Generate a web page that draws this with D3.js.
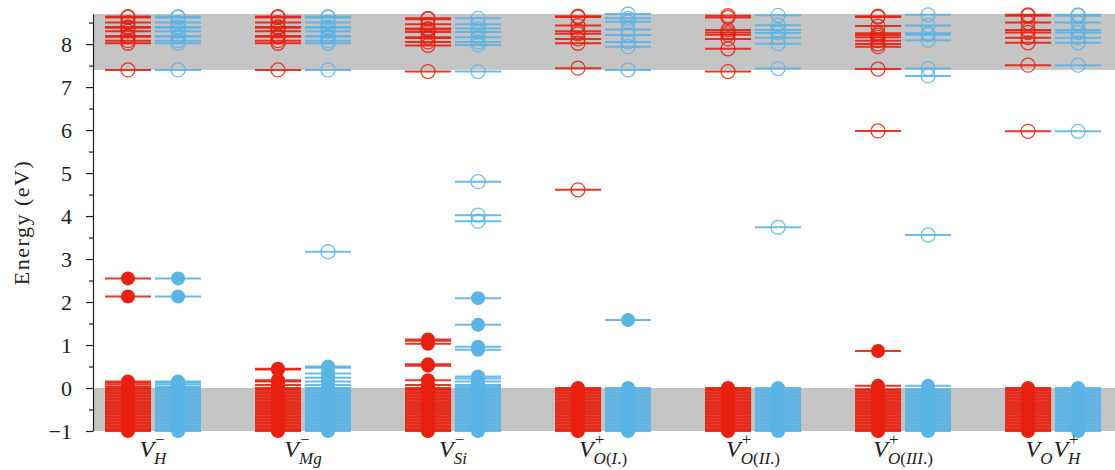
<!DOCTYPE html>
<html>
<head>
<meta charset="utf-8">
<script src="https://cdn.jsdelivr.net/npm/d3@7"></script>
<style>
  body { margin: 0; background: #fff; }
  text { font-family: "Liberation Serif", "Times New Roman", serif; fill: #222; }
</style>
</head>
<body>
<svg id="chart" width="1115" height="470"></svg>
<script>
      // defect labels : base letter, subscript, superscript
      var labels = [
        [{base: "V", sub: "H",        sup: "\u2212"}],
        [{base: "V", sub: "Mg",       sup: "\u2212"}],
        [{base: "V", sub: "Si",       sup: "\u2212"}],
        [{base: "V", sub: "O(I.)",    sup: "+"}],
        [{base: "V", sub: "O(II.)",   sup: "+"}],
        [{base: "V", sub: "O(III.)",  sup: "+"}],
        [{base: "V", sub: "O"}, {base: "V", sub: "H", sup: "+"}]
      ];

      // valence band levels (shared by all defects)
      var vbLevels = [-1.00,-0.97,-0.94,-0.90,-0.87,-0.83,-0.80,-0.76,-0.73,-0.69,-0.66,-0.62,-0.59,-0.55,
                      -0.52,-0.48,-0.45,-0.41,-0.38,-0.34,-0.31,-0.27,-0.24,-0.20,-0.17,-0.13,-0.10,-0.06,-0.03];

      // spin up, occupied
      var upOcc = [
        [0.00, 0.03, 0.08, 0.12, 0.15, 2.13, 2.55],
        [0.00, 0.07, 0.15, 0.18, 0.43, 0.45],
        [0.00, 0.07, 0.18, 0.52, 0.55, 1.03, 1.10, 1.13],
        [0.00],
        [0.00],
        [0.05, 0.86],
        [0.00]
      ];
      // spin up, empty
      var upEmpty = [
        [7.40, 8.02, 8.08, 8.17, 8.19, 8.30, 8.38, 8.40, 8.50, 8.62, 8.64],
        [7.40, 8.02, 8.08, 8.17, 8.19, 8.30, 8.38, 8.40, 8.50, 8.62, 8.64],
        [7.36, 7.97, 8.05, 8.14, 8.16, 8.28, 8.34, 8.36, 8.46, 8.58, 8.60],
        [4.61, 7.44, 8.02, 8.12, 8.24, 8.30, 8.43, 8.63, 8.65],
        [7.36, 7.89, 8.12, 8.22, 8.27, 8.33, 8.62, 8.66],
        [5.98, 7.42, 7.94, 8.00, 8.08, 8.16, 8.21, 8.25, 8.42, 8.63, 8.65],
        [5.97, 7.51, 8.03, 8.15, 8.27, 8.33, 8.50, 8.66, 8.68]
      ];
      // spin down, occupied
      var downOcc = [
        [0.00, 0.03, 0.08, 0.12, 0.15, 2.13, 2.55],
        [0.00, 0.07, 0.15, 0.24, 0.34, 0.47, 0.50],
        [0.00, 0.04, 0.07, 0.15, 0.22, 0.27, 0.89, 0.96, 1.47, 2.09],
        [0.00, 1.58],
        [0.00],
        [0.05],
        [0.00]
      ];
      // spin down, empty
      var downEmpty = [
        [7.40, 8.02, 8.08, 8.17, 8.19, 8.30, 8.38, 8.40, 8.50, 8.62, 8.64],
        [3.17, 7.40, 8.02, 8.08, 8.17, 8.19, 8.30, 8.38, 8.40, 8.50, 8.62, 8.64],
        [3.88, 4.02, 4.80, 7.36, 7.98, 8.05, 8.16, 8.28, 8.36, 8.46, 8.60],
        [7.40, 7.94, 8.05, 8.21, 8.34, 8.52, 8.60, 8.70],
        [3.74, 7.43, 8.01, 8.15, 8.26, 8.33, 8.44, 8.67],
        [3.56, 7.26, 7.43, 8.09, 8.22, 8.25, 8.43, 8.68],
        [5.97, 7.51, 8.03, 8.15, 8.27, 8.33, 8.50, 8.66, 8.68]
      ];

      // band edges
      var vbTop = 0.0, cbBottom = 7.40, yMin = -1, yMax = 8.70;
      var yTicks = [-1, 0, 1, 2, 3, 4, 5, 6, 7, 8];
      var yMinor = [-0.5, 0.5, 1.5, 2.5, 3.5, 4.5, 5.5, 6.5, 7.5, 8.5];

      var red  = "#e8200f";
      var blue = "#5ab4e6";

      var svg = d3.select("#chart");
      var margin = {top: 14, bottom: 39, left: 93, right: 0};
      var svgWidth = 1115, svgHeight = 470;

      var xScale = d3.scaleLinear().domain([-0.4, 6.413]).range([margin.left, svgWidth - margin.right]);
      var yScale = d3.scaleLinear().domain([yMin, yMax]).range([svgHeight - margin.bottom, margin.top]);

      // gray bands
      svg.append("rect").attr("x", margin.left).attr("width", svgWidth - margin.left - margin.right)
         .attr("y", yScale(vbTop)).attr("height", yScale(yMin) - yScale(vbTop))
         .style("fill", "#c4c4c4");
      svg.append("rect").attr("x", margin.left).attr("width", svgWidth - margin.left - margin.right)
         .attr("y", yScale(yMax)).attr("height", yScale(cbBottom) - yScale(yMax))
         .style("fill", "#c4c4c4");

      // levels
      var spins = [
        {occ: upOcc,   empty: upEmpty,   color: red,  x1: -0.320, x2: -0.013, xc: -0.167},
        {occ: downOcc, empty: downEmpty, color: blue, x1:  0.013, x2:  0.320, xc:  0.167}
      ];
      var levels = svg.append("g");
      spins.forEach(function(s) {
        for (var c = 0; c < labels.length; c++) {
          var filled = vbLevels.concat(s.occ[c]);
          var all = filled.concat(s.empty[c]);
          all.forEach(function(e) {
            levels.append("line")
               .attr("x1", xScale(c + s.x1)).attr("x2", xScale(c + s.x2))
               .attr("y1", yScale(e)).attr("y2", yScale(e))
               .style("stroke", s.color).style("stroke-width", 2).style("stroke-opacity", 0.9);
          });
          filled.forEach(function(e) {
            levels.append("circle").attr("cx", xScale(c + s.xc)).attr("cy", yScale(e)).attr("r", 7)
               .style("fill", s.color);
          });
          s.empty[c].forEach(function(e) {
            levels.append("circle").attr("cx", xScale(c + s.xc)).attr("cy", yScale(e)).attr("r", 7)
               .style("fill", "none").style("stroke", s.color).style("stroke-width", 1.3)
               .style("stroke-opacity", 0.85);
          });
        }
      });

      // y axis
      var yAxis = svg.append("g").attr("transform", "translate(" + margin.left + ",0)")
         .call(d3.axisLeft(yScale).tickValues(yTicks).tickFormat(d3.format("d"))
                 .tickSize(7).tickPadding(14).tickSizeOuter(0));
      yAxis.selectAll("text").style("font-size", "22px").style("font-family", "Liberation Serif").style("fill", "#222");
      yAxis.selectAll("line, path").style("stroke", "#222").style("stroke-width", 1.2);
      svg.append("g").attr("transform", "translate(" + margin.left + ",0)")
         .call(d3.axisLeft(yScale).tickValues(yMinor).tickFormat("").tickSize(4).tickSizeOuter(0))
         .call(function(g) { g.select(".domain").remove(); })
         .selectAll("line").style("stroke", "#222").style("stroke-width", 1.2);

      svg.append("text")
         .attr("transform", "translate(29," + ((yScale(yMin) + yScale(yMax)) / 2) + ") rotate(-90)")
         .style("text-anchor", "middle").style("font-size", "22px").style("letter-spacing", "1.5px")
         .text("Energy (eV)");

      // width of a script string, measured then removed
      function measure(str, size) {
        var t = svg.append("text").style("font-size", size + "px").style("font-style", "italic").text(str);
        var w = t.node().getComputedTextLength();
        t.remove();
        return w;
      }
      function addChars(t, str, size, dx, dy) {
        str.split("").forEach(function(ch, k) {
          t.append("tspan").text(ch)
           .attr("dx", k == 0 ? dx : null).attr("dy", k == 0 ? dy : null)
           .style("font-size", size + "px")
           .style("font-style", "().\u2212+".indexOf(ch) >= 0 ? "normal" : "italic");
        });
      }

      // category labels, one text element each
      var labelY = 457, subY = 7, supY = -12;
      labels.forEach(function(parts, i) {
        var t = svg.append("text").attr("y", labelY);
        var total = 0, yOff = 0;
        parts.forEach(function(p, k) {
          var wBase = measure(p.base, 24);
          var wSub  = p.sub ? measure(p.sub, 17) : 0;
          var wSup  = p.sup ? measure(p.sup, 17) : 0;
          t.append("tspan").text(p.base).attr("dy", -yOff).attr("dx", k == 0 ? null : 1)
           .style("font-size", "24px").style("font-style", "italic");
          yOff = 0;
          var pen = 0;                       // relative to end of base letter
          if (p.sub) { addChars(t, p.sub, 17, 0, subY); pen = wSub; yOff = subY; }
          if (p.sup) { addChars(t, p.sup, 17, 1 - pen, supY - yOff); pen = 1 + wSup; yOff = supY; }
          var adv = Math.max(wSub, p.sup ? wSup + 1 : 0);
          if (pen < adv) t.append("tspan").text("").attr("dx", adv - pen);
          total += wBase + adv + (k == 0 ? 0 : 1);
        });
        t.attr("x", xScale(i) - total / 2);
      });
</script>
</body>
</html>
